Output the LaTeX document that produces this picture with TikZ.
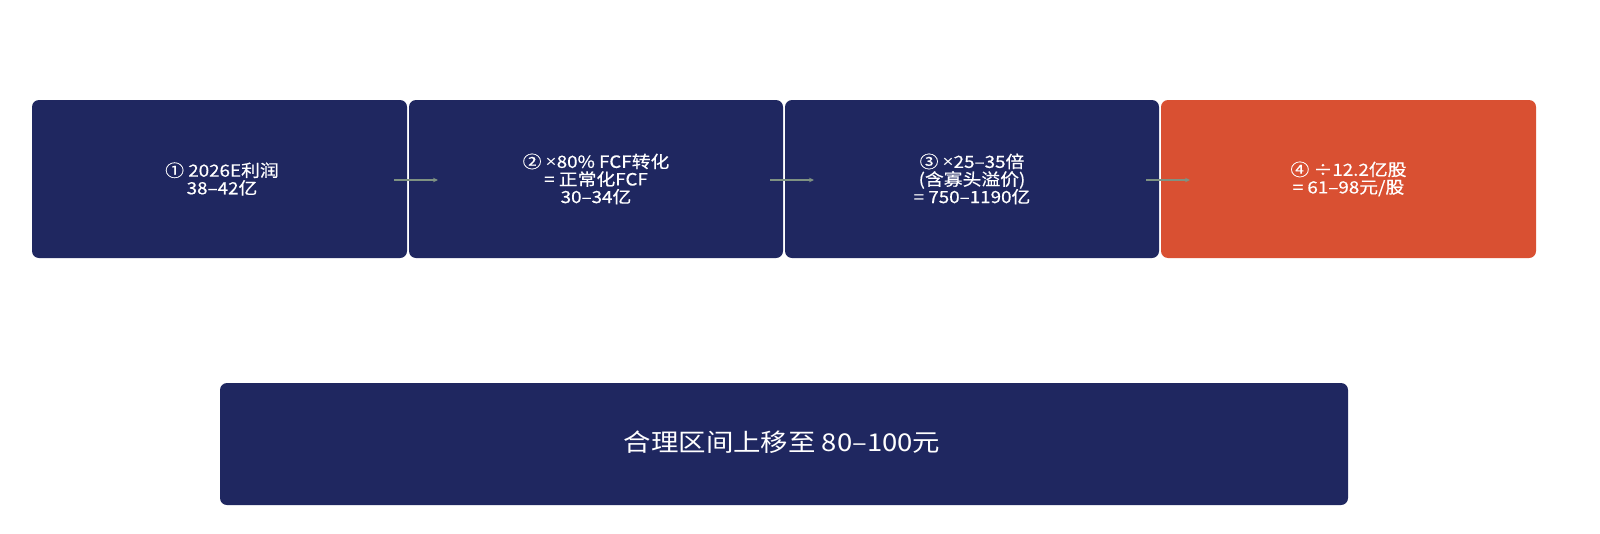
\documentclass[tikz,border=0pt]{standalone}
\usepackage{fontspec}
\setmainfont[FakeStretch=1.12,FakeBold=0.5]{Noto Sans CJK SC}
\newfontfamily\plainfont[FakeStretch=1.12]{Noto Sans CJK SC}
\newfontfamily\latinx[FakeStretch=1.12]{Liberation Sans}
\usetikzlibrary{arrows.meta}
\definecolor{navy}{HTML}{1F2760}
\definecolor{orng}{HTML}{D95032}
\definecolor{arrowc}{HTML}{7F9282}
\newcommand{\smx}{{\latinx ×}}
\begin{document}
\begin{tikzpicture}[x=1pt,y=-1pt,
  stepbox/.style={text=white, align=center, font=\fontsize{16.8}{17.6}\selectfont, inner sep=0pt},
  conn/.style={draw=arrowc, line width=1.3pt, -{Stealth[length=5pt,width=4.5pt]}}]
\useasboundingbox (0,0) rectangle (1600,533);
\fill[white] (0,0) rectangle (1600,533);
\fill[navy, rounded corners=7pt] (32,100) rectangle (407,258);
\fill[navy, rounded corners=7pt] (409,100) rectangle (783,258);
\fill[navy, rounded corners=7pt] (785,100) rectangle (1159,258);
\fill[orng, rounded corners=7pt] (1161,100) rectangle (1536,258);
\fill[navy, rounded corners=7pt] (220,383) rectangle (1348,505);
\node[stepbox] (a) at (222,179) {① 2026E利润\\38–42亿};
\node[stepbox] (b) at (596,179) {② \smx80\% FCF转化\\= 正常化FCF\\30–34亿};
\node[stepbox] (c) at (972,179) {③ \smx25–35倍\\(含寡头溢价)\\= 750–1190亿};
\node[stepbox] (d) at (1348.5,179) {④ ÷12.2亿股\\= 61–98元/股};
\node[text=white, font=\plainfont\fontsize{24.5}{28}\selectfont] (e) at (782,442) {合理区间上移至 80–100元};
\coordinate (a1) at (394,180); \coordinate (b0) at (438,180);
\coordinate (b1) at (770,180); \coordinate (c0) at (814,180);
\coordinate (c1) at (1146,180); \coordinate (d0) at (1190,180);
\draw[conn] (a1) -- (b0);
\draw[conn] (b1) -- (c0);
\draw[conn] (c1) -- (d0);
\end{tikzpicture}
\end{document}
